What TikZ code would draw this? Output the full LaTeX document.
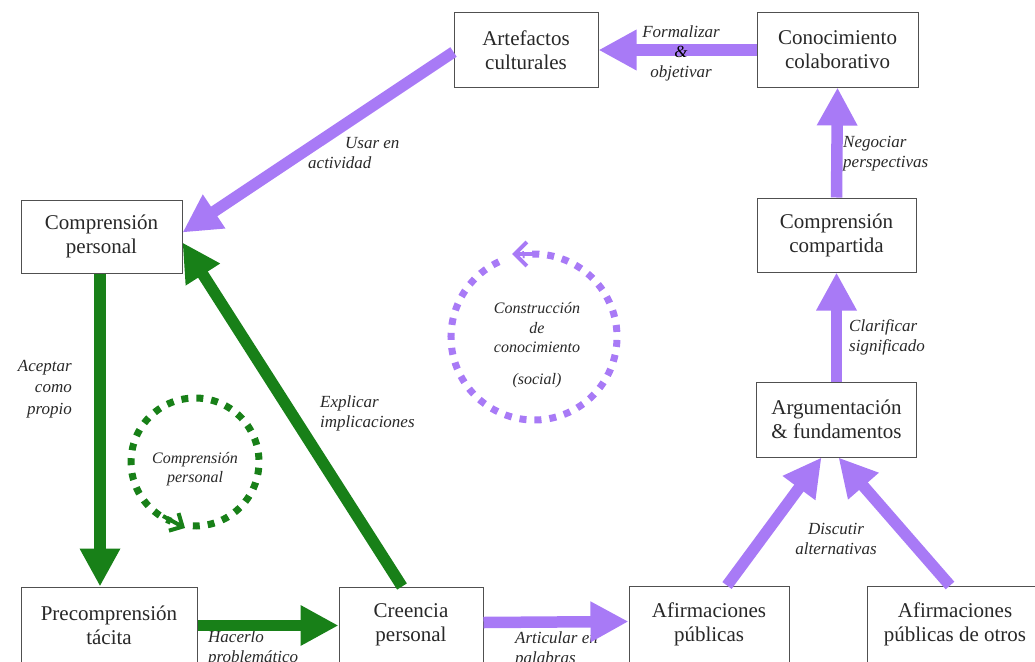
\documentclass[tikz,border=0pt]{standalone}
\usepackage{fontspec}
\setmainfont{Liberation Serif}
\usetikzlibrary{arrows.meta}
\definecolor{lila}{RGB}{168,122,246}
\definecolor{verde}{RGB}{24,128,24}
\definecolor{txt}{RGB}{40,40,40}
\definecolor{boxline}{RGB}{80,80,80}
\begin{document}
\begin{tikzpicture}[x=1pt,y=-1pt,
  box/.style={draw=boxline, line width=1pt, fill=white, text=txt, align=center, inner sep=0pt,
              font=\fontsize{21}{24}\selectfont},
  lab/.style={text=txt, inner sep=0pt, font=\fontsize{17}{20}\selectfont\itshape},
  ctext/.style={text=txt, inner sep=0pt, align=center, font=\fontsize{16}{19.5}\selectfont\itshape},
  parr/.style={draw=lila, line width=11.5pt, -{Triangle[length=38pt,width=38pt]}},
  varr/.style={draw=verde, line width=11.5pt, -{Triangle[length=38pt,width=38pt]}},
  ring/.style={line width=7pt, dash pattern=on 7pt off 8pt},
  ringtip/.style={line width=4pt, -{Straight Barb[length=12pt,width=24pt]}},
]
\useasboundingbox (0,0) rectangle (1035,661);
\clip (0,0) rectangle (1035,661);

% boxes
\node[box, minimum width=144pt, minimum height=74pt] (artef) at (526,50) {Artefactos\\culturales};
\node[box, minimum width=161pt, minimum height=74pt] (conoc) at (837.5,50) {Conocimiento\\colaborativo};
\node[box, minimum width=161pt, minimum height=73pt] (cp) at (101.5,236.5) {Comprensión\\personal};
\node[box, minimum width=159pt, minimum height=74pt] (compart) at (836.5,235) {Comprensión\\compartida};
\node[box, minimum width=160pt, minimum height=75pt] (arg) at (836.5,419.5) {Argumentación\\\& fundamentos};
\node[box, minimum width=176pt, minimum height=76pt] (precomp) at (109,625) {Precomprensión\\tácita};
\node[box, minimum width=144pt, minimum height=76pt] (creen) at (411,625) {Creencia\\personal};
\node[box, minimum width=160pt, minimum height=76pt] (afp) at (709,624) {Afirmaciones\\públicas};
\node[box, minimum width=176pt, minimum height=76pt] (afpo) at (955,624) {Afirmaciones\\públicas de otros};

% labels (below the arrows)
\node[lab, align=left, anchor=west] (lusar) at (308,153) {\hspace*{37pt}Usar en\\actividad};
\node[lab, align=right, anchor=east, font=\fontsize{17}{21.5}\selectfont\itshape] (lacep) at (72,389) {Aceptar\\como\\propio};
\node[lab, align=left, anchor=west] (lexpl) at (320,413) {Explicar\\implicaciones};
\node[lab, align=left, anchor=west] (lneg) at (843,154) {Negociar\\perspectivas};
\node[lab, align=left, anchor=west] (lclar) at (849,337) {Clarificar\\significado};
\node[lab, align=center] (ldisc) at (836,539) {Discutir\\alternativas};
\node[lab, align=left, anchor=west] (lhac) at (208,648) {Hacerlo\\problemático};
\node[lab, align=left, anchor=west] (lart) at (515,649) {Articular en\\palabras};

% circle texts
\node[ctext] (tcons) at (537,328) {Construcción\\de\\conocimiento};
\node[ctext] (tsoc) at (537,381) {(social)};
\node[ctext] (tcp) at (195,469) {Comprensión\\personal};

% dashed cycles
\coordinate (cc1) at (534,337);
\coordinate (cc2) at (195,462);
\draw[lila, ring] (cc1) ++(605:83) arc[start angle=605, end angle=262, radius=83];
\draw[lila, ringtip] ([shift={(0,-83)}]cc1) -- ([shift={(-22,-83)}]cc1);
\draw[verde, ring] (cc2) ++(452:64) arc[start angle=452, end angle=112, radius=64];
\draw[verde, ringtip, -{Straight Barb[length=10pt,width=20pt]}] ([shift={(-32,54)}]cc2) -- ([shift={(-10,66)}]cc2);

% purple arrows
\draw[parr] (conoc.west) -- (artef.east);
\draw[parr] ([yshift=-2pt]artef.west) -- ([yshift=4pt]cp.east);
\draw[parr] (compart.north) -- (conoc.south);
\draw[parr] (arg.north) -- (compart.south);
\draw[parr] ([xshift=18pt]afp.north) -- ([xshift=-15pt]arg.south);
\draw[parr] ([xshift=-5pt]afpo.north) -- ([xshift=2pt]arg.south);
\draw[parr] ([yshift=2.5pt]creen.east) -- ([yshift=2.5pt]afp.west);

% green arrows
\draw[varr] ([xshift=-1.5pt]cp.south) -- ([xshift=-1.5pt]cp.south |- precomp.north);
\draw[varr] ([yshift=-0.5pt]precomp.east) -- ([yshift=-0.5pt]creen.west);
\draw[varr] ([xshift=-9pt]creen.north) -- ([yshift=-6pt]cp.east);

% label drawn over its arrow
\node[lab, align=center] (lform) at (681,53) {Formalizar\\\textcolor{black}{\&}\\objetivar};
\end{tikzpicture}
\end{document}
